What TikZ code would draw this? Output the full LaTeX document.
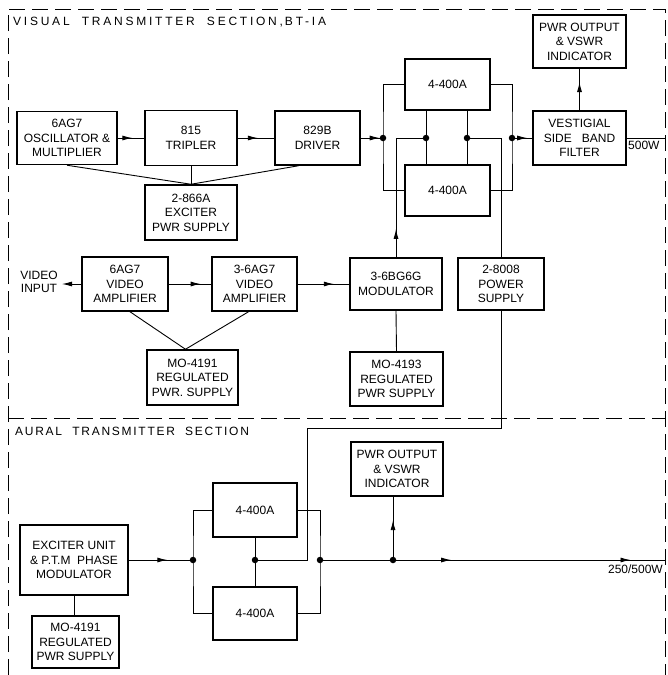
\documentclass[tikz,border=0pt]{standalone}
\usepackage{fontspec}
\setmainfont{Liberation Sans}
\usetikzlibrary{arrows.meta,decorations.markings,calc}
\tikzset{
  box/.style={draw, line width=1.5pt, align=center, inner sep=0pt,
    font=\fontsize{12}{14.5}\selectfont},
  wire/.style={line width=0.9pt},
  border/.style={line width=1pt, dash pattern=on 16pt off 7pt},
  jdot/.style={circle, fill, inner sep=0pt, minimum size=6.5pt},
  tip/.style={-{Latex[length=10pt,width=5pt]}},
  arrowat/.style={postaction={decorate}, decoration={markings,
    mark=at position #1 with {\arrow{Latex[length=10pt,width=5pt]}}}},
  arrowtwo/.style 2 args={postaction={decorate}, decoration={markings,
    mark=at position #1 with {\arrow{Latex[length=10pt,width=5pt]}},
    mark=at position #2 with {\arrow{Latex[length=10pt,width=5pt]}}}},
  title/.style={font=\fontsize{12}{14}\selectfont\addfontfeature{LetterSpace=23}, inner sep=0pt},
  titleb/.style={font=\fontsize{12}{14}\selectfont\addfontfeature{LetterSpace=14.5}, inner sep=0pt},
  lbl/.style={font=\fontsize{12}{13}\selectfont, inner sep=0pt, align=center}
}
\begin{document}
\begin{tikzpicture}[x=1pt,y=-1pt]
\useasboundingbox (0,0) rectangle (668,675);
% borders
\draw[border] (8,675) -- (8,9) -- (665,9) -- (665,675);
\draw[border] (8,418) -- (665,418);
\node[title, anchor=base west] (t1) at (13,25) {VISUAL\ \ TRANSMITTER\ \ SECTION,\,BT-IA};
\node[titleb, anchor=base west] (t2) at (15,435) {AURAL\ \ TRANSMITTER\ \ SECTION};

% visual section boxes
\node[box, minimum width=100pt, minimum height=53pt] (osc) at (67,138) {6AG7\\OSCILLATOR \&\\MULTIPLIER};
\node[box, minimum width=92pt, minimum height=55pt] (trip) at (191,138) {815\\TRIPLER};
\node[box, minimum width=85pt, minimum height=54pt] (drv) at (317.5,138) {829B\\DRIVER};
\node[box, minimum width=92pt, minimum height=55pt] (exc) at (191,212.5) {2-866A\\EXCITER\\PWR SUPPLY};
\node[box, minimum width=85pt, minimum height=51pt] (tpa) at (447.5,84.5) {4-400A};
\node[box, minimum width=85pt, minimum height=51pt] (bpa) at (447.5,190.5) {4-400A};
\node[box, minimum width=93pt, minimum height=54pt] (vsb) at (579.5,138) {VESTIGIAL\\SIDE\ \ \ BAND\\FILTER};
\node[box, minimum width=93pt, minimum height=53pt] (ind1) at (579.5,41.5) {PWR OUTPUT\\\& VSWR\\INDICATOR};
\node[box, minimum width=86pt, minimum height=54pt] (va1) at (125,284) {6AG7\\VIDEO\\AMPLIFIER};
\node[box, minimum width=85pt, minimum height=54pt] (va2) at (254.5,284) {3-6AG7\\VIDEO\\AMPLIFIER};
\node[box, minimum width=92pt, minimum height=52pt] (mod) at (396,284) {3-6BG6G\\MODULATOR};
\node[box, minimum width=86pt, minimum height=52pt] (ps) at (501,284) {2-8008\\POWER\\SUPPLY};
\node[box, minimum width=91pt, minimum height=55pt] (rps1) at (192.5,377.5) {MO-4191\\REGULATED\\PWR. SUPPLY};
\node[box, minimum width=93pt, minimum height=54pt] (rps2) at (396.5,379) {MO-4193\\REGULATED\\PWR SUPPLY};
\node[lbl] (vin) at (39,282) {VIDEO\\INPUT};
\coordinate (vint) at (62,284);

% visual junctions
\node[jdot] (jL) at (383,138) {};
\node[jdot] (jR) at (512,138) {};
\node[jdot] (jM1) at (426,138) {};
\node[jdot] (jM2) at (467,138) {};
\coordinate (out1) at (665,138);

% visual wires
\draw[wire, arrowat=0.55] (osc.east) -- (trip.west);
\draw[wire, arrowat=0.55] (trip.east) -- (drv.west);
\draw[wire, arrowat=0.85] (drv.east) -- (jL.center);
\draw[wire] (tpa.west) -| (jL.center) |- (bpa.west);
\draw[wire] (tpa.east) -| (jR.center) |- (bpa.east);
\draw[wire, arrowat=0.75] (jR.center) -- (vsb.west);
\draw[wire] (tpa.south -| jM1) -- (bpa.north -| jM1);
\draw[wire] (tpa.south -| jM2) -- (bpa.north -| jM2);
\draw[wire, arrowat=0.19] (mod.north) |- (jM1.center);
\draw[wire] (jM2.center) -| (ps.north);
\draw[wire, arrowat=0.68] (vsb.north) -- (ind1.south);
\draw[wire] (vsb.east) -- (out1);
\node[lbl, anchor=north west] (w1) at (628,140.5) {500W};
\draw[wire] (osc.south) -- (exc.north);
\draw[wire] (trip.south) -- (exc.north);
\draw[wire] ([xshift=-19pt]drv.south) -- (exc.north);
\draw[wire, tip] (va1.west) -- (vint);
\draw[wire, arrowat=0.75] (va1.east) -- (va2.west);
\draw[wire, arrowat=0.7] (va2.east) -- (mod.west);
\draw[wire] ([xshift=5pt]va1.south) -- ([xshift=-7pt]rps1.north);
\draw[wire] ([xshift=-6pt]va2.south) -- ([xshift=-7pt]rps1.north);
\draw[wire] (mod.south) -- (rps2.north);

% aural section boxes
\node[box, minimum width=84pt, minimum height=54pt] (atpa) at (255,510) {4-400A};
\node[box, minimum width=84pt, minimum height=53pt] (abpa) at (255,613.5) {4-400A};
\node[box, minimum width=108pt, minimum height=70pt] (exu) at (74,560) {EXCITER UNIT\\\& P.T.M\ \ PHASE\\MODULATOR};
\node[box, minimum width=87pt, minimum height=52pt] (rps3) at (75.5,642) {MO-4191\\REGULATED\\PWR SUPPLY};
\node[box, minimum width=92pt, minimum height=54pt] (ind2) at (397,469) {PWR OUTPUT\\\& VSWR\\INDICATOR};

\node[jdot] (jA1) at (193,560) {};
\node[jdot] (jA2) at (255,560) {};
\node[jdot] (jA3) at (320,560) {};
\node[jdot] (jA4) at (393,560) {};
\coordinate (bend1) at (307,428);
\coordinate (out2) at (665,560);

\draw[wire, arrowat=0.6] (exu.east) -- (jA1.center);
\draw[wire] (atpa.west) -| (jA1.center) |- (abpa.west);
\draw[wire] (atpa.east) -| (jA3.center) |- (abpa.east);
\draw[wire] (atpa.south) -- (abpa.north);
\draw[wire] (ps.south) |- (bend1) |- (jA2.center);
\draw[wire, arrowtwo={0.38}{0.9}] (jA3.center) -- (out2);
\draw[wire, arrowat=0.63] (jA4.center) -- (jA4 |- ind2.south);
\draw[wire] (exu.south) -- (exu.south |- rps3.north);
\node[lbl, anchor=north east] (w2) at (663,565) {250/500W};
\end{tikzpicture}
\end{document}
